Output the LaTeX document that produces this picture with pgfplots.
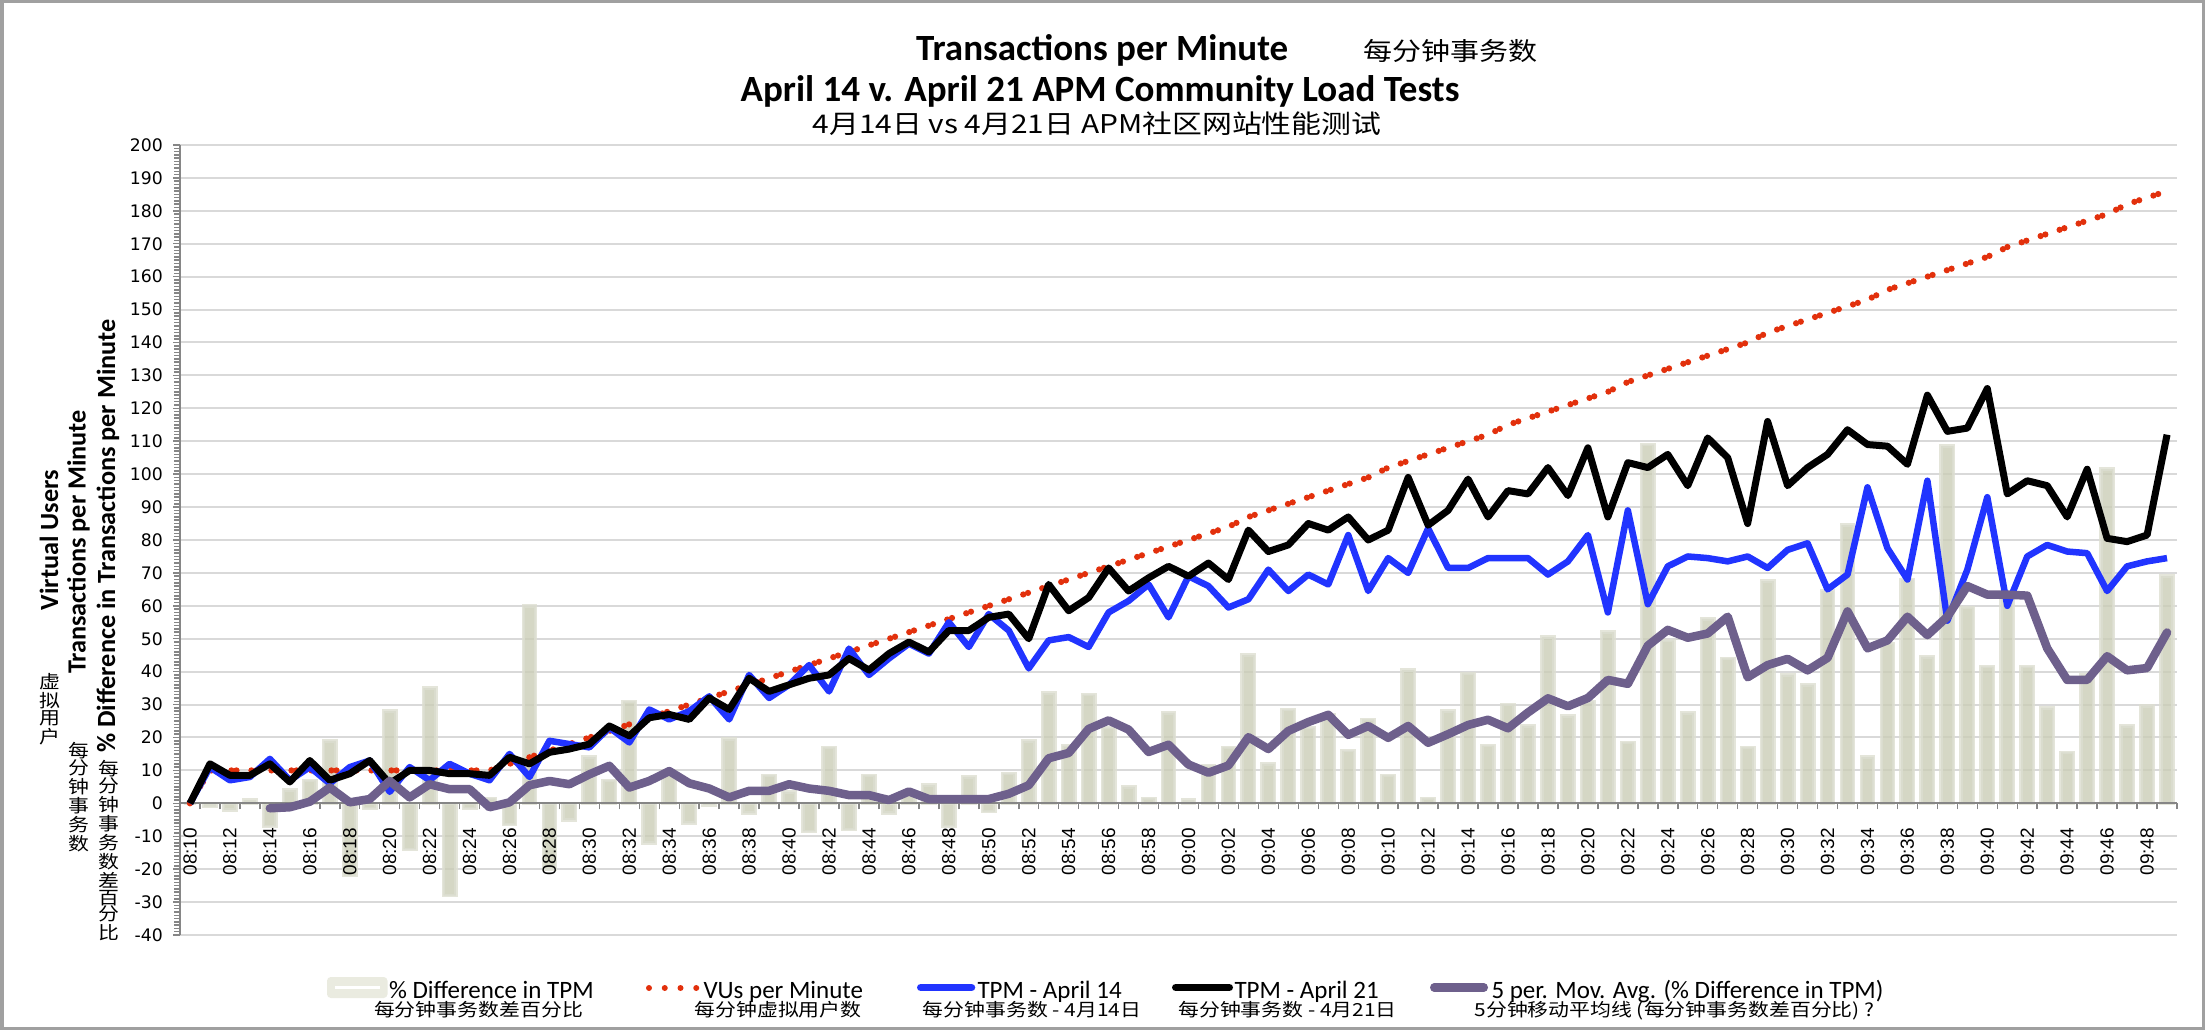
\documentclass[border=0pt]{standalone}
\usepackage{fontspec}
\setmainfont{Carlito}
\newfontfamily\cjk[FakeStretch=1.16]{Noto Sans CJK SC}
\newfontfamily\tickfont{Liberation Sans}
\newfontfamily\yfont{DejaVu Sans}
\usepackage{pgfplots}
\usepackage{pgfplotstable}
\pgfplotsset{compat=1.18}
\definecolor{barc}{RGB}{203,205,183}
\definecolor{bare}{RGB}{221,222,209}
\definecolor{vuc}{RGB}{226,48,12}
\definecolor{b14}{RGB}{33,52,255}
\definecolor{mac}{RGB}{110,96,140}
\definecolor{gridc}{RGB}{217,217,217}
\definecolor{axc}{RGB}{134,134,134}
\definecolor{borderc}{RGB}{160,160,160}
\definecolor{legbar}{RGB}{234,235,224}

\pgfplotsset{
  geom/.style={
    at={(72pt,38pt)}, anchor=south west, scale only axis,
    width=798.8pt, height=316pt,
    xmin=-0.5, xmax=99.5, ymin=-40, ymax=200,
  },
}

\pgfplotstableread{
i bar vu t14 t21 ma
0 0 0 0 0 nan
1 -1 10 11 12 nan
2 -2 10 7 8.5 nan
3 1 10 8 8.5 nan
4 -7 10 13.5 12 -1.5
5 4 10 7 6.5 -1.2
6 7 10 11 13 0.5
7 19 10 6 7 4.8
8 -22 10 11 9 0.3
9 -1.5 10 13 13 1.3
10 28 10 3.5 6 6.8
11 -14 10 11 10 1.8
12 35 10 7 10 5.8
13 -28 10 12 9 4.3
14 -1.5 10 9 9 4.3
15 1.5 10 7 8.5 -1.2
16 -6.5 12 15 14 0.3
17 60 14 8 12 5.5
18 -20 16 19 15.5 6.8
19 -5 18 18 16.5 5.8
20 14 20 17 18 8.8
21 7 22 23 23.5 11.4
22 31 24 18.5 20.5 4.8
23 -12 26 28.5 26 6.8
24 10 28 25.5 27 9.8
25 -6 30 28 25.5 6.1
26 -0.5 32 32.5 32 4.5
27 19.5 34 25.5 28.5 1.8
28 -3 36 39 38 3.8
29 8.5 38 32 34 3.8
30 3.5 40 36 36 5.8
31 -8.5 42 42 38 4.5
32 17 44 34 39 3.8
33 -8 46 47 44 2.5
34 8.5 48 39 40.5 2.5
35 -3 50 44 45.5 1
36 3.5 52 48.5 49 3.6
37 5.5 54 45.5 46 1.3
38 -7 56 55 52.5 1.3
39 8 58 47.5 52.5 1.3
40 -2.5 60 57.5 56.5 1.3
41 9 62 52.5 57.5 2.9
42 19 64 41 50 5.5
43 33.5 66 49.5 66.5 13.7
44 17.5 68 50.5 58.5 15.3
45 33 70 47.5 62.5 22.6
46 23 72 58 71.5 25.2
47 5 74 61.5 64.5 22.4
48 1.5 76 66.5 68.5 15.6
49 27.5 78 56.5 72 17.8
50 1 80 69 69 11.8
51 11.5 82 66 73 9.3
52 17 84 59.5 68 11.5
53 45 87 62 83 20.1
54 12 89 71 76.5 16.5
55 28.5 91 64.5 78.5 22
56 23 93 69.5 85 24.7
57 27 95 66.5 83 26.9
58 16 97 81.5 87 20.8
59 25.5 99 64.5 80 23.5
60 8.5 102 74.5 83 19.9
61 40.5 104 70 99 23.5
62 1.5 106 83.5 84.5 18.4
63 28 108 71.5 89 21
64 39.5 110 71.5 98.5 23.8
65 17.5 112 74.5 87 25.4
66 30 115 74.5 95 22.8
67 23.5 117 74.5 94 27.6
68 50.5 119 69.5 102 31.9
69 26.5 121 73.5 93.5 29.5
70 31 123 81.5 108 32
71 52 125 58 87 37.5
72 18.5 128 89 103.5 36.3
73 109 130 60.5 102 47.9
74 49.5 132 72 106 52.7
75 27.5 134 75 96.5 50.3
76 56 136 74.5 111 51.6
77 44 138 73.5 105 56.7
78 17 140 75 85 38.3
79 67.5 143 71.5 116 42
80 39 145 77 96.5 43.9
81 36 147 79 102 40.4
82 64.5 149 65 106 44.2
83 84.5 151 69.5 113.5 58.3
84 14 153 96 109 47.1
85 48.5 156 77.5 108.5 49.5
86 68 158 68 103 56.7
87 44.5 160 98 124 51.1
88 108.5 162 55.5 113 56.7
89 59.5 164 71 114 66
90 41.5 166 93 126 63.4
91 63 169 60 94 63.4
92 41.5 171 75 98 63.1
93 29 173 78.5 96.5 47.1
94 15.5 175 76.5 87 37.5
95 39 177 76 101.5 37.5
96 101.5 179 64.5 80.5 44.7
97 23.5 182 72 79.5 40.4
98 29.5 184 73.5 81.5 41.1
99 69 186 74.5 112 51.9
}\data

\begin{document}
\begin{tikzpicture}
\useasboundingbox (0,0) rectangle (882pt,412pt);
\draw[borderc, line width=1.2pt] (0.8pt,0.8pt) rectangle (881.2pt,411.2pt);
% layer 1: grid and bars
\begin{axis}[
  geom,
  axis line style={draw=none},
  ytick={-40,-30,...,200}, yticklabels={}, xtick=\empty,
  major tick length=0pt, tick style={draw=none},
  ymajorgrids, grid style={draw=gridc, line width=0.8pt},
]
\addplot[ybar, bar width=0.62, fill=barc, draw=bare, line width=1.4pt, opacity=0.8] table[x=i, y=bar] {\data};
\end{axis}
% layer 2: axes, ticks, labels and lines
\begin{axis}[
  geom,
  axis x line=middle, axis y line=left,
  axis line style={-, draw=axc, line width=0.8pt},
  ytick={-40,-30,...,200}, minor y tick num=9,
  xtick={0,2,...,98},
  xticklabels={08:10,08:12,08:14,08:16,08:18,08:20,08:22,08:24,08:26,08:28,08:30,08:32,08:34,08:36,08:38,08:40,08:42,08:44,08:46,08:48,08:50,08:52,08:54,08:56,08:58,09:00,09:02,09:04,09:06,09:08,09:10,09:12,09:14,09:16,09:18,09:20,09:22,09:24,09:26,09:28,09:30,09:32,09:34,09:36,09:38,09:40,09:42,09:44,09:46,09:48},
  minor xtick={-0.5,0.5,...,99.5},
  tick align=outside,
  major tick length=2.8pt, minor tick length=2.4pt,
  tick style={draw=axc, line width=0.6pt},
  major x tick style={draw=none},
  hide obscured x ticks=false, hide obscured y ticks=false,
  /pgf/number format/assume math mode=true,
  yticklabel style={font=\yfont\fontsize{6.9}{8}\selectfont, xshift=-0.5pt},
  xticklabel style={font=\tickfont\fontsize{7.6}{9}\selectfont, yshift=-3.5pt, rotate=90, anchor=east},
  unbounded coords=jump,
]
\addplot[vuc, line width=2.5pt, line cap=round, dash pattern=on 0pt off 2pt on 0pt off 6pt, mark=none] table[x=i, y=vu] {\data};
\addplot[b14, line width=2.6pt, line join=round, mark=none] table[x=i, y=t14] {\data};
\addplot[black, line width=2.8pt, line join=round, mark=none] table[x=i, y=t21] {\data};
\addplot[mac, line width=3.4pt, line join=round, line cap=round, mark=none] table[x=i, y=ma] {\data};
\end{axis}

% titles
\node[font=\bfseries\fontsize{14.8}{17}\selectfont, inner sep=0] at (440.9pt,391.8pt) {Transactions per Minute};
\node[font=\cjk\fontsize{10}{12}\selectfont, inner sep=0] at (580pt,391.8pt) {每分钟事务数};
\node[font=\bfseries\fontsize{14.8}{17}\selectfont, inner sep=0] at (440pt,375.6pt) {April 14 v. April 21 APM Community Load Tests};
\node[font=\cjk\fontsize{10.3}{12}\selectfont, inner sep=0] at (438.8pt,362.4pt) {4月14日 vs 4月21日 APM社区网站性能测试};

% y axis titles
\node[rotate=90, font=\bfseries\fontsize{10.5}{12}\selectfont, inner sep=0] at (19.6pt,196pt) {Virtual Users};
\node[rotate=90, font=\bfseries\fontsize{10.5}{12}\selectfont, inner sep=0] at (31.4pt,195.2pt) {Transactions per Minute};
\node[rotate=90, font=\bfseries\fontsize{10.5}{12}\selectfont, inner sep=0] at (43.2pt,197.6pt) {\% Difference in Transactions per Minute};
\node[font=\cjk\fontsize{7.2}{6.6}\selectfont, align=center, inner sep=0, anchor=north] at (20pt,142.8pt) {虚\\拟\\用\\户};
\node[font=\cjk\fontsize{7.2}{6.6}\selectfont, align=center, inner sep=0, anchor=north] at (31.6pt,115.2pt) {每\\分\\钟\\事\\务\\数};
\node[font=\cjk\fontsize{7.2}{6.6}\selectfont, align=center, inner sep=0, anchor=north] at (43.6pt,108pt) {每\\分\\钟\\事\\务\\数\\差\\百\\分\\比};

% legend
\fill[legbar, rounded corners=1.5pt] (130.8pt,12.8pt) rectangle (155pt,21.2pt);
\draw[white, line width=1.2pt] (134pt,17pt) -- (152pt,17pt);
\node[font=\fontsize{10}{12}\selectfont, anchor=base west, inner sep=0] at (155.4pt,12.8pt) {\% Difference in TPM};
\node[font=\cjk\fontsize{7.2}{8}\selectfont, anchor=base, inner sep=0] at (191.4pt,5.6pt) {每分钟事务数差百分比};

\draw[vuc, line width=2.4pt, line cap=round, dash pattern=on 0pt off 6.3pt] (259.6pt,16.8pt) -- (279.5pt,16.8pt);
\node[font=\fontsize{10}{12}\selectfont, anchor=base west, inner sep=0] at (281.2pt,12.8pt) {VUs per Minute};
\node[font=\cjk\fontsize{7.2}{8}\selectfont, anchor=base, inner sep=0] at (311.2pt,5.6pt) {每分钟虚拟用户数};

\draw[b14, line width=3pt, line cap=round] (368.3pt,17pt) -- (388.6pt,17pt);
\node[font=\fontsize{10}{12}\selectfont, anchor=base west, inner sep=0] at (390.8pt,12.8pt) {TPM - April 14};
\node[font=\cjk\fontsize{7.2}{8}\selectfont, anchor=base, inner sep=0] at (412.8pt,5.6pt) {每分钟事务数 - 4月14日};

\draw[black, line width=3pt, line cap=round] (470.3pt,17pt) -- (491.7pt,17pt);
\node[font=\fontsize{10}{12}\selectfont, anchor=base west, inner sep=0] at (493.6pt,12.8pt) {TPM - April 21};
\node[font=\cjk\fontsize{7.2}{8}\selectfont, anchor=base, inner sep=0] at (515pt,5.6pt) {每分钟事务数 - 4月21日};

\draw[mac, line width=3.4pt, line cap=round] (573.7pt,17pt) -- (593.5pt,17pt);
\node[font=\fontsize{10}{12}\selectfont, anchor=base west, inner sep=0] at (596.4pt,12.8pt) {5 per. Mov. Avg. (\% Difference in TPM)};
\node[font=\cjk\fontsize{7.2}{8}\selectfont, anchor=base, inner sep=0] at (669.8pt,5.6pt) {5分钟移动平均线 (每分钟事务数差百分比) ?};
\end{tikzpicture}
\end{document}
